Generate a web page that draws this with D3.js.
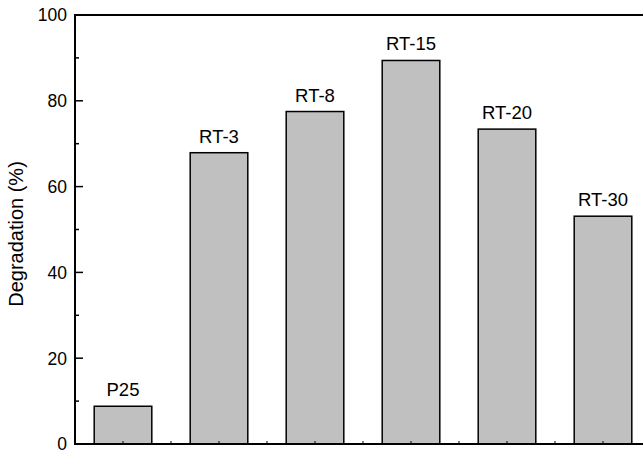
<!DOCTYPE html>
<html>
<head>
<meta charset="utf-8">
<script src="https://cdn.jsdelivr.net/npm/d3@7"></script>
<style>
  html, body { margin: 0; padding: 0; background: #fff; }
  svg { display: block; font-family: "Liberation Sans", Arial, sans-serif; }
</style>
</head>
<body>
<div id="chart"></div>
<script>
const samples = ["P25", "RT-3", "RT-8", "RT-15", "RT-20", "RT-30"];
const degradation = [8.8, 67.9, 77.5, 89.4, 73.4, 53.1];
const majorTicks = [0, 20, 40, 60, 80, 100];
const minorTicks = [10, 30, 50, 70, 90];

const W = 643, H = 450;
const MARGIN = { top: 15, left: 75, bottom: 6 };
const PLOT_RIGHT = 651;

const svg = d3.select("#chart").append("svg")
    .attr("width", W)
    .attr("height", H);

const x = d3.scaleBand()
    .domain(samples)
    .range([MARGIN.left, PLOT_RIGHT])
    .paddingInner(0.4)
    .paddingOuter(0.2);

const y = d3.scaleLinear()
    .domain([0, 100])
    .range([H - MARGIN.bottom, MARGIN.top]);

const data = samples.map((s, i) => ({ sample: s, value: degradation[i] }));

// bars
svg.selectAll("rect.bar")
    .data(data)
    .join("rect")
    .attr("class", "bar")
    .attr("x", d => x(d.sample))
    .attr("y", d => y(d.value))
    .attr("width", x.bandwidth())
    .attr("height", d => y(0) - y(d.value))
    .attr("fill", "#c0c0c0")
    .attr("stroke", "#000")
    .attr("stroke-width", 1.5);

// bar labels
svg.selectAll("text.bar-label")
    .data(data)
    .join("text")
    .attr("class", "bar-label")
    .attr("x", d => x(d.sample) + x.bandwidth() / 2)
    .attr("y", d => y(d.value) - 10)
    .attr("text-anchor", "middle")
    .attr("font-size", 18.5)
    .attr("fill", "#000")
    .text(d => d.sample);

// frame (left, top, bottom)
svg.append("path")
    .attr("d", `M${PLOT_RIGHT},${y(100)}H${MARGIN.left}V${y(0)}H${PLOT_RIGHT}`)
    .attr("stroke", "#000")
    .attr("stroke-width", 2)
    .attr("fill", "none");

// y ticks (inward)
svg.append("g")
    .selectAll("line")
    .data(majorTicks)
    .join("line")
    .attr("x1", MARGIN.left)
    .attr("x2", MARGIN.left + 8)
    .attr("y1", d => y(d))
    .attr("y2", d => y(d))
    .attr("stroke", "#000")
    .attr("stroke-width", 1.5);

svg.append("g")
    .selectAll("line")
    .data(minorTicks)
    .join("line")
    .attr("x1", MARGIN.left)
    .attr("x2", MARGIN.left + 4)
    .attr("y1", d => y(d))
    .attr("y2", d => y(d))
    .attr("stroke", "#000")
    .attr("stroke-width", 1.5);

svg.append("g")
    .selectAll("text")
    .data(majorTicks)
    .join("text")
    .attr("x", MARGIN.left - 8)
    .attr("y", d => y(d))
    .attr("dy", "0.36em")
    .attr("text-anchor", "end")
    .attr("font-size", 17.5)
    .text(d => d);

// x ticks: at bar centres and between bars
const half = x.step() / 2;
const xTicks = d3.range(1, samples.length * 2).map(i => MARGIN.left + i * half);
svg.append("g")
    .selectAll("line")
    .data(xTicks)
    .join("line")
    .attr("x1", d => d)
    .attr("x2", d => d)
    .attr("y1", y(0))
    .attr("y2", y(0) - 3)
    .attr("stroke", "#000")
    .attr("stroke-width", 1);

// y axis title
svg.append("text")
    .attr("transform", "translate(23,234) rotate(-90)")
    .attr("text-anchor", "middle")
    .attr("font-size", 20)
    .text("Degradation (%)");
</script>
</body>
</html>
